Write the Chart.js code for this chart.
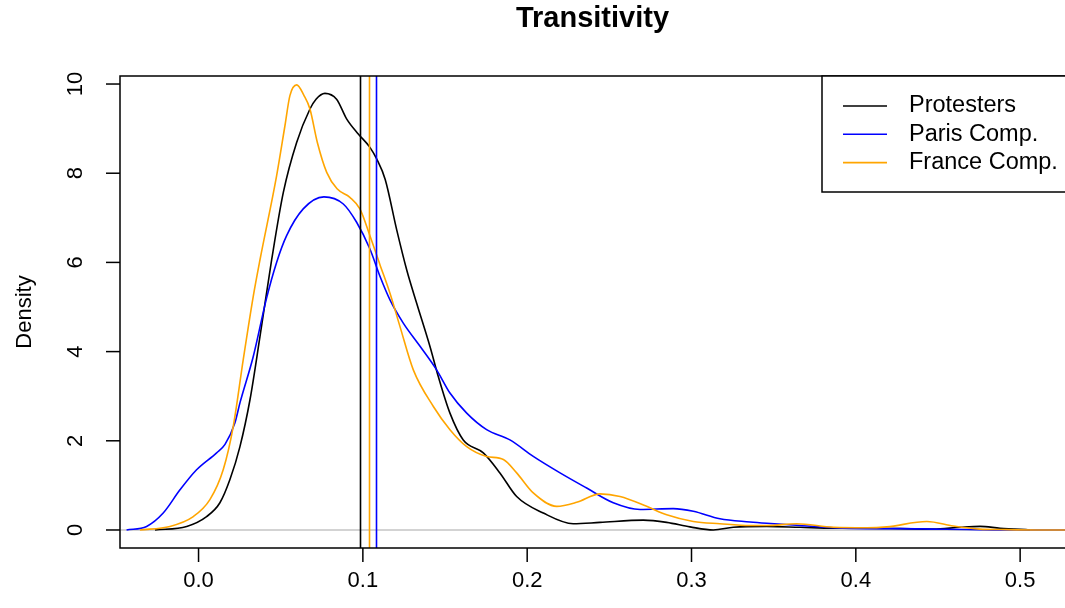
<!DOCTYPE html>
<html>
<head>
<meta charset="utf-8">
<script src="https://cdn.jsdelivr.net/npm/chart.js@4.4.1/dist/chart.umd.min.js"></script>
<style>
  body { margin: 0; background: #fff; }
  #wrap { width: 1065px; height: 608px; }
</style>
</head>
<body>
<div id="wrap"><canvas id="densityChart" width="1065" height="608"></canvas></div>
<script>
// Density estimates
const protX = [-0.0265, -0.0072, 0.0049, 0.013, 0.0191, 0.0252, 0.0313, 0.0374, 0.0445, 0.0516, 0.0597, 0.0678, 0.0715, 0.0769, 0.084, 0.0901, 0.0972, 0.1043, 0.1084, 0.1136, 0.1206, 0.1267, 0.1327, 0.1408, 0.1459, 0.153, 0.1611, 0.1733, 0.1834, 0.1936, 0.2098, 0.228, 0.2443, 0.2707, 0.2849, 0.2991, 0.3133, 0.3254, 0.3458, 0.366, 0.3863, 0.4066, 0.4269, 0.4472, 0.4634, 0.4756, 0.4878, 0.506]
const protY = [0, 0.08, 0.3, 0.61, 1.13, 1.87, 2.92, 4.34, 6.06, 7.57, 8.69, 9.44, 9.66, 9.79, 9.66, 9.22, 8.88, 8.58, 8.32, 7.86, 6.73, 5.83, 5.09, 4.12, 3.44, 2.62, 2.02, 1.73, 1.28, 0.75, 0.38, 0.14, 0.17, 0.22, 0.17, 0.07, 0.0, 0.06, 0.08, 0.06, 0.04, 0.04, 0.03, 0.02, 0.06, 0.08, 0.04, 0]

const parisX = [-0.0438, -0.0316, -0.0215, -0.0113, -0.0012, 0.011, 0.0161, 0.0221, 0.0252, 0.0333, 0.0414, 0.0475, 0.0536, 0.0637, 0.0763, 0.0881, 0.0962, 0.1043, 0.1104, 0.1165, 0.1246, 0.1348, 0.1449, 0.153, 0.1632, 0.1753, 0.1895, 0.2037, 0.22, 0.2362, 0.2524, 0.2687, 0.2889, 0.3011, 0.3173, 0.3356, 0.3458, 0.366, 0.3863, 0.4066, 0.4269, 0.4472, 0.4675, 0.49, 0.53]
const parisY = [0, 0.08, 0.38, 0.9, 1.35, 1.73, 1.92, 2.4, 2.85, 3.89, 5.2, 6.0, 6.6, 7.2, 7.47, 7.31, 6.9, 6.3, 5.69, 5.16, 4.64, 4.12, 3.59, 3.07, 2.62, 2.25, 2.02, 1.65, 1.28, 0.94, 0.61, 0.46, 0.48, 0.42, 0.25, 0.18, 0.15, 0.1, 0.05, 0.03, 0.03, 0.02, 0.01, 0, 0]

const franceX = [-0.0357, -0.0174, -0.0032, 0.0069, 0.015, 0.0211, 0.0272, 0.0333, 0.0374, 0.0475, 0.0526, 0.0556, 0.0597, 0.0642, 0.0678, 0.0723, 0.078, 0.0843, 0.0921, 0.0982, 0.1043, 0.1104, 0.1165, 0.1226, 0.1307, 0.1429, 0.153, 0.1632, 0.1753, 0.1855, 0.1936, 0.2037, 0.218, 0.2301, 0.2443, 0.2565, 0.2727, 0.2849, 0.3011, 0.3173, 0.3356, 0.3458, 0.364, 0.3863, 0.4066, 0.4188, 0.4432, 0.4593, 0.4756, 0.4878, 0.51, 0.53]
const franceY = [0, 0.08, 0.3, 0.68, 1.35, 2.32, 3.82, 5.24, 6.06, 7.94, 9.07, 9.74, 9.98, 9.74, 9.44, 8.69, 8.02, 7.65, 7.46, 7.2, 6.6, 5.95, 5.31, 4.56, 3.59, 2.77, 2.25, 1.87, 1.65, 1.58, 1.28, 0.83, 0.53, 0.62, 0.81, 0.75, 0.53, 0.34, 0.19, 0.14, 0.1, 0.1, 0.14, 0.06, 0.05, 0.07, 0.19, 0.09, 0.02, 0.01, 0, 0]

// Mean transitivity of each group (vertical lines)
const meanValues = [0.098, 0.1079, 0.1035]

const seriesNames = ["Protesters", "Paris Comp.", "France Comp."]
const seriesColors = ["#000000", "#0000ff", "#ffa500"]
const xTicks = [0, 0.1, 0.2, 0.3, 0.4, 0.5]
const yTicks = [0, 2, 4, 6, 8, 10]

const FONT = '"Liberation Sans", Arial, Helvetica, sans-serif'

const toPoints = (xs, ys) => xs.map((x, i) => ({ x: x, y: ys[i] }))

// R-style axes, box, mean lines, legend and title
const rPlotDecor = {
  id: "rPlotDecor",
  beforeDatasetsDraw(chart) {
    const { ctx, chartArea, scales } = chart
    const y0 = scales.y.getPixelForValue(0)
    ctx.save()
    ctx.strokeStyle = "#d3d3d3"
    ctx.lineWidth = 2
    ctx.beginPath()
    ctx.moveTo(chartArea.left, y0)
    ctx.lineTo(chartArea.right, y0)
    ctx.stroke()
    ctx.restore()
  },
  afterDatasetsDraw(chart) {
    const { ctx, chartArea, scales } = chart
    const { left, right, top, bottom } = chartArea
    ctx.save()

    // mean lines
    ctx.lineWidth = 1.6
    meanValues.forEach((v, i) => {
      const px = Math.round(scales.x.getPixelForValue(v)) + 0.5
      ctx.strokeStyle = seriesColors[i]
      ctx.beginPath()
      ctx.moveTo(px, top)
      ctx.lineTo(px, bottom)
      ctx.stroke()
    })

    // box
    ctx.strokeStyle = "#000"
    ctx.lineWidth = 1.5
    ctx.strokeRect(left, top, right - left + 2, bottom - top)

    // ticks and labels
    ctx.fillStyle = "#000"
    ctx.font = "22px " + FONT
    ctx.textAlign = "center"
    ctx.textBaseline = "middle"
    xTicks.forEach((t) => {
      const px = scales.x.getPixelForValue(t)
      ctx.beginPath()
      ctx.moveTo(px, bottom)
      ctx.lineTo(px, bottom + 14)
      ctx.stroke()
      ctx.fillText(t.toFixed(1), px, bottom + 33)
    })
    yTicks.forEach((t) => {
      const py = scales.y.getPixelForValue(t)
      ctx.beginPath()
      ctx.moveTo(left, py)
      ctx.lineTo(left - 14, py)
      ctx.stroke()
      ctx.save()
      ctx.translate(left - 44, py)
      ctx.rotate(-Math.PI / 2)
      ctx.fillText(String(t), 0, 0)
      ctx.restore()
    })

    // y axis title
    ctx.save()
    ctx.translate(25, (top + bottom) / 2)
    ctx.rotate(-Math.PI / 2)
    ctx.fillText("Density", 0, 0)
    ctx.restore()

    // title
    ctx.font = "bold 29px " + FONT
    ctx.fillText("Transitivity", (left + right) / 2, 19)

    // legend
    const lx = right - 243
    ctx.fillStyle = "#fff"
    ctx.fillRect(lx, top, 245, 116)
    ctx.lineWidth = 1.5
    ctx.strokeStyle = "#000"
    ctx.strokeRect(lx, top, 250, 116)
    ctx.font = "23.5px " + FONT
    ctx.textAlign = "left"
    seriesNames.forEach((name, i) => {
      const ly = top + 30 + i * 28.3
      ctx.strokeStyle = seriesColors[i]
      ctx.lineWidth = 1.6
      ctx.beginPath()
      ctx.moveTo(lx + 21, ly)
      ctx.lineTo(lx + 65, ly)
      ctx.stroke()
      ctx.fillStyle = "#000"
      ctx.fillText(name, lx + 87, ly)
    })
    ctx.restore()
  },
}

const chart = new Chart(document.getElementById("densityChart"), {
  type: "line",
  data: {
    datasets: [
      { label: seriesNames[0], data: toPoints(protX, protY), borderColor: seriesColors[0], order: 2 },
      { label: seriesNames[1], data: toPoints(parisX, parisY), borderColor: seriesColors[1], order: 1 },
      { label: seriesNames[2], data: toPoints(franceX, franceY), borderColor: seriesColors[2], order: 0 },
    ],
  },
  options: {
    responsive: false,
    animation: false,
    layout: { padding: { left: 120, right: 0, top: 76, bottom: 60 } },
    elements: {
      point: { radius: 0 },
      line: { borderWidth: 1.6, cubicInterpolationMode: "monotone", fill: false },
    },
    plugins: {
      legend: { display: false },
      tooltip: { enabled: false },
    },
    scales: {
      x: { type: "linear", min: -0.0478, max: 0.5273, display: false },
      y: { type: "linear", min: -0.404, max: 10.18, display: false },
    },
  },
  plugins: [rPlotDecor],
})
</script>
</body>
</html>
